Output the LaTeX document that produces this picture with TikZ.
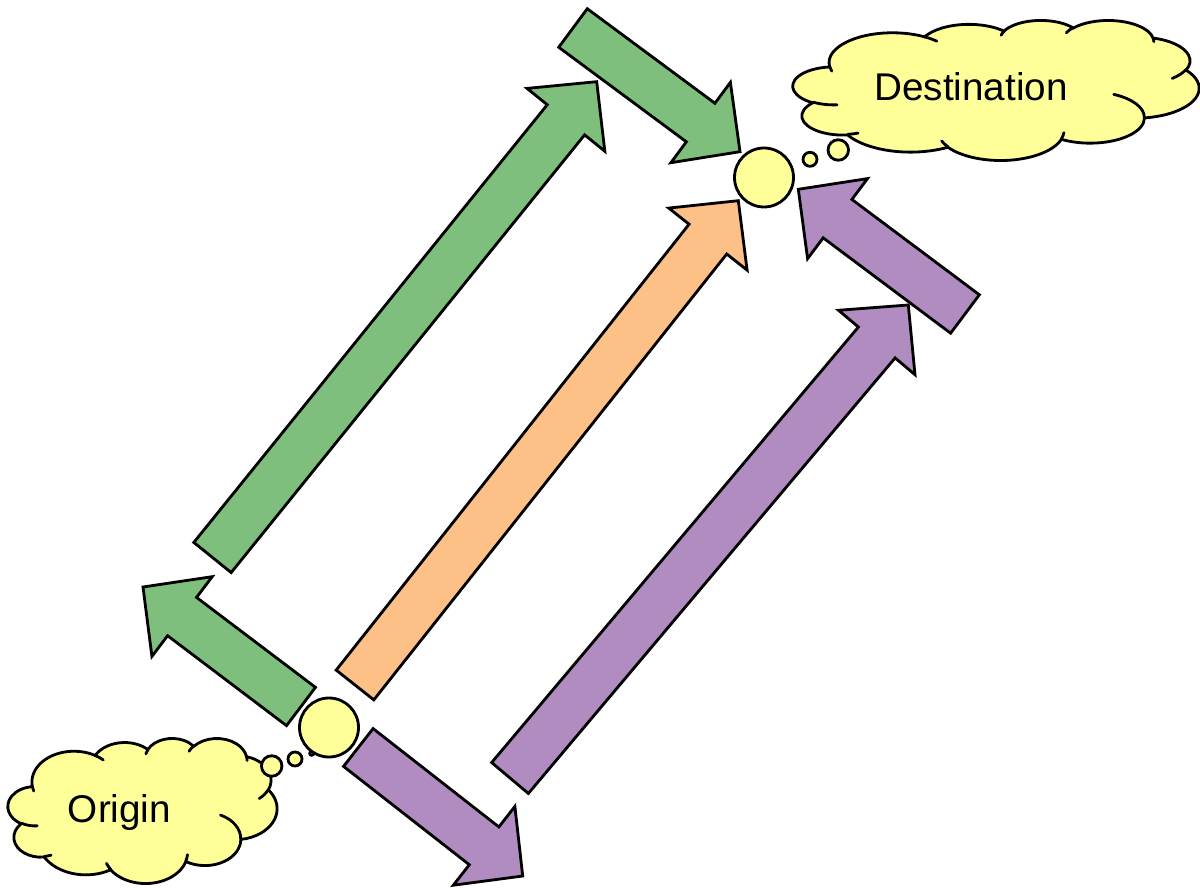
\documentclass[tikz,border=0pt]{standalone}
\usepackage{fontspec}
\setmainfont{Liberation Sans}
\usepackage{tikz}
\usetikzlibrary{calc}
\usepackage{xcolor}
\definecolor{odgreen}{RGB}{127,191,125}
\definecolor{odorange}{RGB}{253,192,134}
\definecolor{odpurple}{RGB}{176,140,192}
\definecolor{odyellow}{RGB}{255,255,153}
\tikzstyle{outline} = [draw=black, line width=1.6pt, line join=miter]
\tikzstyle{bubble} = [circle, outline, fill=odyellow, inner sep=0pt]
\tikzstyle{place} = [font=\fontsize{22}{26}\selectfont, anchor=base, inner sep=0pt]
\def\shaftw{0.48cm}
\def\headw{1cm}
\def\headl{0.98cm}

% block arrow from a tail coordinate to a tip coordinate
\newcommand\blockarrow[3]{%
  \coordinate (#2-head) at ($(#3)!\headl!(#2)$);
  \filldraw[outline, fill=#1] ($(#2)!\shaftw!90:(#3)$) -- ($(#2-head)!\shaftw!90:(#3)$)
    -- ($(#2-head)!\headw!90:(#3)$) -- (#3) -- ($(#2-head)!\headw!-90:(#3)$)
    -- ($(#2-head)!\shaftw!-90:(#3)$) -- ($(#2)!\shaftw!-90:(#3)$) -- cycle;
}

% elliptic arc, angles given as seen (not as parameters)
\newcommand\ooarc[4]{arc[x radius=#1, y radius=#2,
  start angle={atan2(#1*sin(#3),#2*cos(#3))},
  delta angle={mod(atan2(#1*sin(#3+#4),#2*cos(#3+#4))-atan2(#1*sin(#3),#2*cos(#3))+720,360)}]}

% cloud in a box: name, left, top, width, height (px)
\newcommand\thoughtcloud[5]{%
  \begin{scope}[shift={(#2,#3)}, x={#4*0.02cm/43.2}, y={-#5*0.02cm/43.2}]
    \filldraw[outline, fill=odyellow] (3.900,14.370)
      \ooarc{6.753}{9.190}{-190.4875}{123.7805}
      \ooarc{5.333}{7.267}{-144.1024}{89.9452}
      \ooarc{4.365}{5.945}{-145.8079}{99.7230}
      \ooarc{4.857}{6.595}{-130.9861}{117.2417}
      \ooarc{5.333}{7.273}{-78.7089}{109.0269}
      \ooarc{6.775}{9.220}{-46.2673}{130.2690}
      \ooarc{5.785}{7.867}{0.6250}{114.0333}
      \ooarc{6.752}{9.215}{22.4516}{115.1726}
      \ooarc{7.720}{10.543}{66.2426}{75.7110}
      \ooarc{4.360}{5.918}{-274.9421}{146.7356}
      \ooarc{4.345}{5.945}{-246.8285}{152.5189} -- cycle;
    \draw[outline, line cap=round]
      (4.693,26.177) \ooarc{4.345}{5.945}{86.7420}{26.4295}
      (6.928,34.899) \ooarc{4.360}{5.918}{73.6105}{11.4475}
      (16.478,39.090) \ooarc{6.752}{9.215}{137.6242}{14.0811}
      (28.827,34.751) \ooarc{6.752}{9.215}{6.4533}{15.9984}
      (34.129,22.954) \ooarc{5.785}{7.867}{-70.2924}{70.9174}
      (41.798,15.354) \ooarc{5.333}{7.273}{30.3180}{27.7515}
      (38.324,5.426) \ooarc{4.857}{6.595}{-13.7443}{14.8589}
      (29.078,3.952) \ooarc{4.857}{6.595}{-149.1815}{18.1954}
      (22.141,4.720) \ooarc{4.365}{5.945}{-163.4943}{17.6864}
      (14.000,5.192) \ooarc{6.753}{9.190}{-66.7070}{12.3194}
      (4.127,15.789) \ooarc{6.753}{9.190}{157.6544}{11.8582};
    \coordinate (#1) at (21.6,21.6);
  \end{scope}}

\begin{document}
\begin{tikzpicture}[x=0.02cm, y=-0.02cm]
    \useasboundingbox (0,0) rectangle (1200,888);

    % Arrow ends
    \coordinate (gs-tail) at (301,706.5);
    \coordinate (gs-tip) at (143,587);
    \coordinate (gl-tail) at (212.5,557.5);
    \coordinate (gl-tip) at (596.7,81.7);
    \coordinate (gt-tail) at (573,28);
    \coordinate (gt-tip) at (740,151.7);
    \coordinate (or-tail) at (355,685);
    \coordinate (or-tip) at (738.3,200.7);
    \coordinate (ps-tail) at (358.3,747.5);
    \coordinate (ps-tip) at (522.7,876);
    \coordinate (pl-tail) at (510,778);
    \coordinate (pl-tip) at (908.3,305);
    \coordinate (pt-tail) at (965,314);
    \coordinate (pt-tip) at (798.3,189.3);

    % Arrows
    \blockarrow{odgreen}{gs-tail}{gs-tip}
    \blockarrow{odgreen}{gl-tail}{gl-tip}
    \blockarrow{odgreen}{gt-tail}{gt-tip}
    \blockarrow{odorange}{or-tail}{or-tip}
    \blockarrow{odpurple}{ps-tail}{ps-tip}
    \blockarrow{odpurple}{pl-tail}{pl-tip}
    \blockarrow{odpurple}{pt-tail}{pt-tip}

    % Origin
    \thoughtcloud{origin}{8}{738}{269}{145}
    \node[place] (origin-label) at (119.5,822) {Origin};
    \node[bubble, minimum size=0.41cm] (ob1) at (271.7,766) {};
    \node[bubble, minimum size=0.28cm] (ob2) at (295,759) {};
    \node[bubble, minimum size=0.08cm] (ob3) at (311.7,753.3) {};
    \node[bubble, minimum size=1.18cm] (orig) at (329,727.5) {};

    % Destination
    \thoughtcloud{destination}{793}{20}{406}{140}
    \node[place] (dest-label) at (971,100.5) {Destination};
    \node[bubble, minimum size=0.41cm] (db1) at (838.3,150) {};
    \node[bubble, minimum size=0.28cm] (db2) at (810,159.3) {};
    \node[bubble, minimum size=0.08cm] (db3) at (788.3,166.7) {};
    \node[bubble, minimum size=1.18cm] (dest) at (764,177.5) {};
\end{tikzpicture}
\end{document}
